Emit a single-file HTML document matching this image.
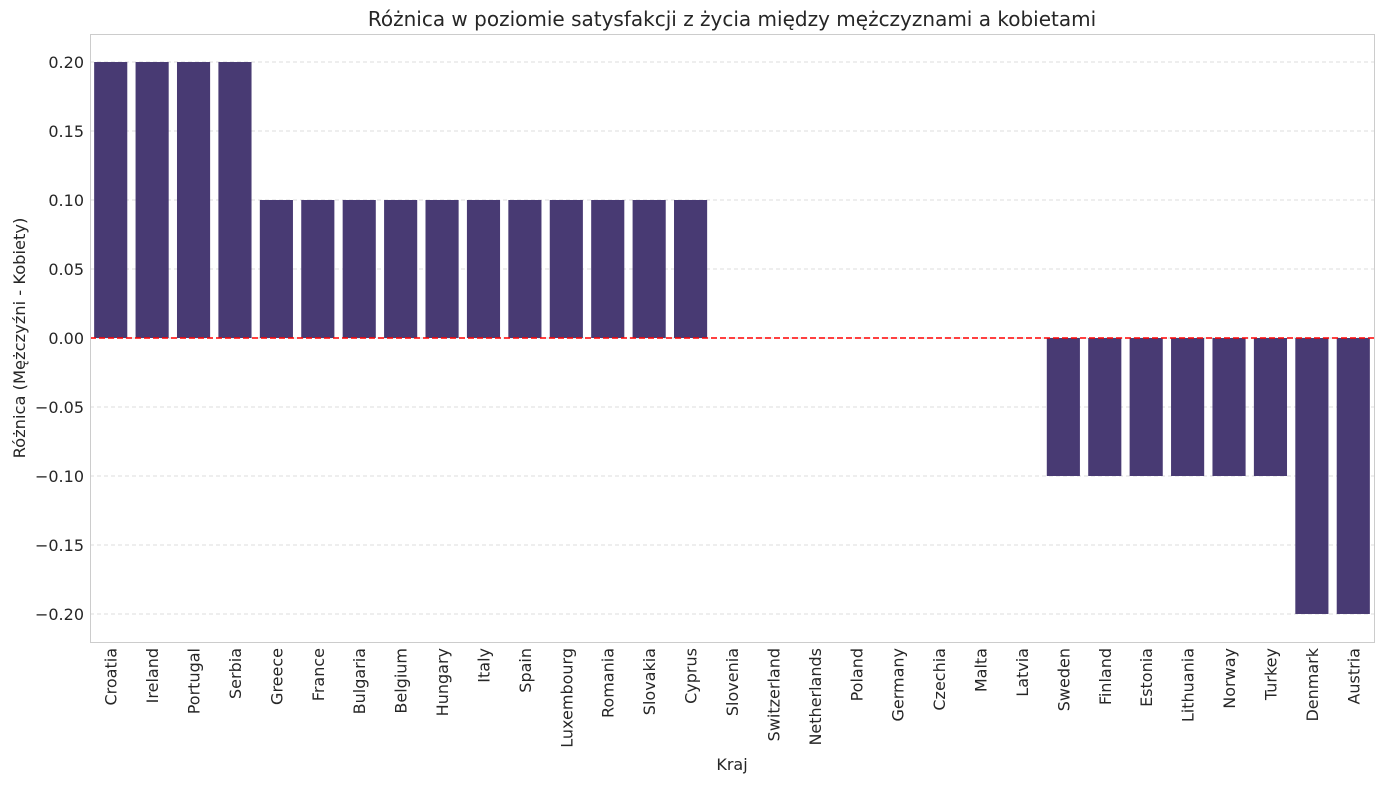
<!DOCTYPE html>
<html><head><meta charset="utf-8">
<style>
body{margin:0;background:#fff;}
svg text{font-family:"DejaVu Sans","Liberation Sans",sans-serif;fill:#262626;}
</style></head>
<body>
<svg id="chart" width="1384" height="784" xmlns="http://www.w3.org/2000/svg">
<rect x="0" y="0" width="1384" height="784" fill="#fff"/>
<text x="732" y="26" font-size="20" text-anchor="middle">Różnica w poziomie satysfakcji z życia między mężczyznami a kobietami</text>
<g id="grid"></g>
<g id="bars"></g>
<g id="yticks"></g>
<g id="xticks"></g>
<rect x="90.5" y="34.5" width="1284" height="608" fill="none" stroke="#cccccc" stroke-width="1"/>
<text x="732" y="770" font-size="16" text-anchor="middle">Kraj</text>
<text transform="translate(25,338) rotate(-90)" font-size="16.3" text-anchor="middle">Różnica (Mężczyźni - Kobiety)</text>
</svg>
<script>
const categories=["Croatia","Ireland","Portugal","Serbia","Greece","France","Bulgaria","Belgium","Hungary","Italy","Spain","Luxembourg","Romania","Slovakia","Cyprus","Slovenia","Switzerland","Netherlands","Poland","Germany","Czechia","Malta","Latvia","Sweden","Finland","Estonia","Lithuania","Norway","Turkey","Denmark","Austria"];
const values=[0.2,0.2,0.2,0.2,0.1,0.1,0.1,0.1,0.1,0.1,0.1,0.1,0.1,0.1,0.1,0,0,0,0,0,0,0,0,-0.1,-0.1,-0.1,-0.1,-0.1,-0.1,-0.2,-0.2];
const yTicks=[0.2,0.15,0.1,0.05,0,-0.05,-0.1,-0.15,-0.2];
const yTickLabels=["0.20","0.15","0.10","0.05","0.00","\u22120.05","\u22120.10","\u22120.15","\u22120.20"];
const NS="http://www.w3.org/2000/svg";
const L=90,R=1374,T=34,B=642,ymin=-0.2203,ymax=0.2203;
const y=v=>T+(ymax-v)/(ymax-ymin)*(B-T);
const bw=(R-L)/categories.length;
const x=i=>L+i*bw;
function mk(tag,attrs,parent){const e=document.createElementNS(NS,tag);for(const k in attrs)e.setAttribute(k,attrs[k]);parent.appendChild(e);return e;}
const grid=document.getElementById('grid'),yt=document.getElementById('yticks'),bars=document.getElementById('bars'),xt=document.getElementById('xticks');
yTicks.forEach((v,i)=>{
  const g=mk('line',{x1:L,x2:R,y1:y(v),y2:y(v),stroke:'#dddddd','stroke-width':1,'stroke-dasharray':'4,3'},grid);
  
  
  const t=mk('text',{x:L-6,y:y(v)+6,'font-size':16,'text-anchor':'end'},yt);
  t.textContent=yTickLabels[i];
  
  
});
categories.forEach((c,i)=>{
  const v=values[i];
  const r=mk('rect',{x:x(i)+bw*0.1,width:bw*0.8,y:Math.min(y(v),y(0)),height:Math.abs(y(v)-y(0)),fill:'#483a73'},bars);
  
  
  const cx=x(i)+bw/2;
  const t=mk('text',{transform:`translate(${cx+6},${B+6}) rotate(-90)`,'font-size':16,'text-anchor':'end'},xt);
  t.textContent=c;
  
  
});
const zl=mk('line',{x1:L,x2:R,y1:y(0),y2:y(0),stroke:'#ff0000','stroke-width':1.5,'stroke-dasharray':'6,3'},bars);


</script>
</body></html>
